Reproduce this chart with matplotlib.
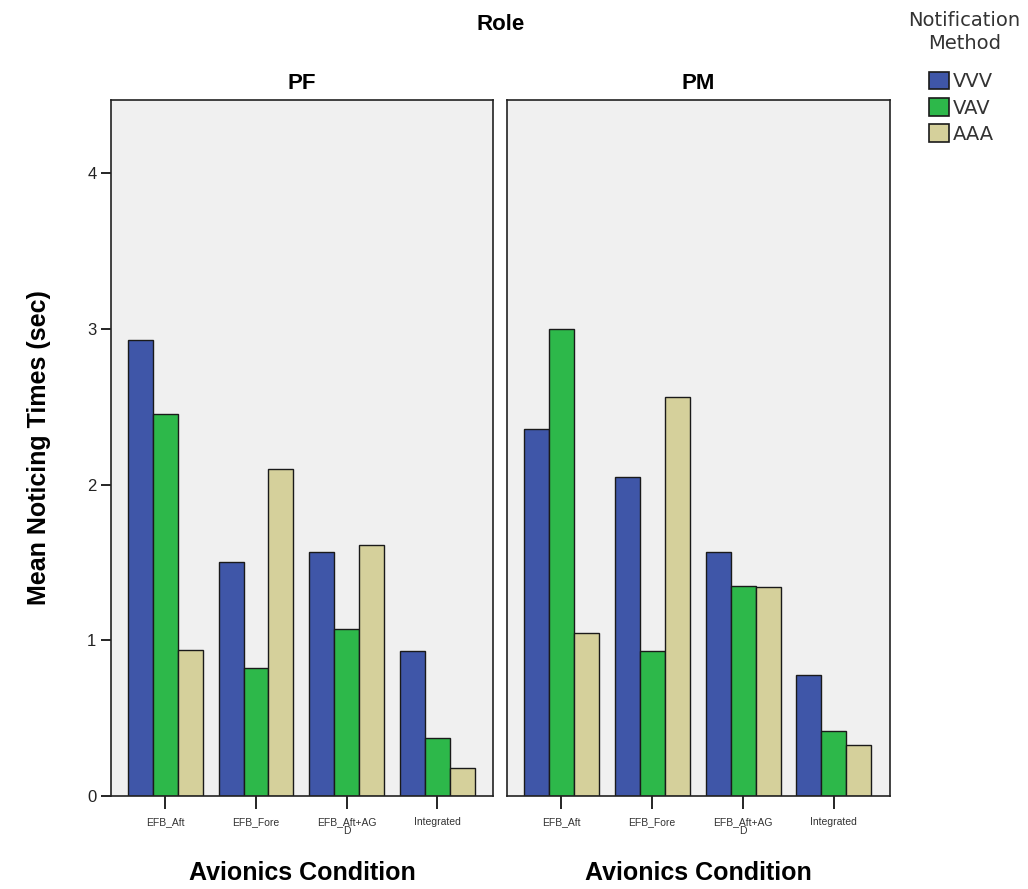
import numpy as np
import matplotlib
matplotlib.use("Agg")
from matplotlib import pyplot as plt
from matplotlib.patches import Patch

plt.rcParams["font.family"] = ["Liberation Sans", "DejaVu Sans"]

conditions = ["EFB_Aft", "EFB_Fore", "EFB_Aft+AG\nD", "Integrated"]
methods = ["VVV", "VAV", "AAA"]
colors = ["#3f56a8", "#2db84a", "#d5d09b"]

# mean noticing times (sec), one list per method
pf_vvv = [2.93, 1.50, 1.57, 0.93]
pf_vav = [2.45, 0.82, 1.07, 0.37]
pf_aaa = [0.94, 2.10, 1.61, 0.18]

pm_vvv = [2.36, 2.05, 1.57, 0.78]
pm_vav = [3.00, 0.93, 1.35, 0.42]
pm_aaa = [1.05, 2.56, 1.34, 0.33]

panels = [("PF", [pf_vvv, pf_vav, pf_aaa]), ("PM", [pm_vvv, pm_vav, pm_aaa])]

fig = plt.figure(figsize=(10.28, 8.89), dpi=100)
boxes = [[0.108, 0.1046, 0.372, 0.783], [0.493, 0.1046, 0.373, 0.783]]

x = np.arange(len(conditions))
w = 0.275
for i, (role, series) in enumerate(panels):
    ax = fig.add_axes(boxes[i])
    ax.set_facecolor("#f0f0f0")
    for j, vals in enumerate(series):
        ax.bar(x + (j - 1) * w, vals, width=w, color=colors[j],
               edgecolor="#1a1a1a", linewidth=1.0, zorder=2)
    ax.set_xlim(-0.6, 3.62)
    ax.set_ylim(0, 4.47)
    ax.set_xticks(x)
    ax.set_xticklabels(conditions, fontsize=7.5, color="#333333", linespacing=0.9)
    ax.tick_params(axis="x", length=9, width=1.2, pad=6)
    for s in ax.spines.values():
        s.set_linewidth(1.2)
        s.set_color("#222222")
    if i == 0:
        ax.set_yticks([0, 1, 2, 3, 4])
        ax.tick_params(axis="y", labelsize=12, length=7, width=1.2, labelcolor="#222222")
        ax.set_ylabel("Mean Noticing Times (sec)", fontsize=18, fontweight="bold",
                      labelpad=26)
    else:
        ax.set_yticks([])
    ax.set_title(role, fontsize=16, fontweight="bold", pad=8)
    ax.set_xlabel("Avionics Condition", fontsize=18, fontweight="bold", labelpad=18)

fig.text(0.487, 0.973, "Role", ha="center", va="center", fontsize=16, fontweight="bold")

# legend title as separate text, entries below it
fig.text(0.938, 0.988, "Notification\nMethod", ha="center", va="top", fontsize=14,
         family="DejaVu Sans", color="#333333", linespacing=1.3)
handles = [Patch(facecolor=c, edgecolor="#1a1a1a", linewidth=1.2, label=m)
           for c, m in zip(colors, methods)]
leg = fig.legend(handles=handles, loc="upper left", bbox_to_anchor=(0.904, 0.919),
                 frameon=False, prop={"family": "DejaVu Sans", "size": 14},
                 handlelength=1.0, handleheight=1.0, handletextpad=0.2,
                 labelspacing=0.35, borderpad=0, borderaxespad=0)
for t in leg.get_texts():
    t.set_color("#333333")

plt.savefig("out.png", dpi=100)
plt.close()
